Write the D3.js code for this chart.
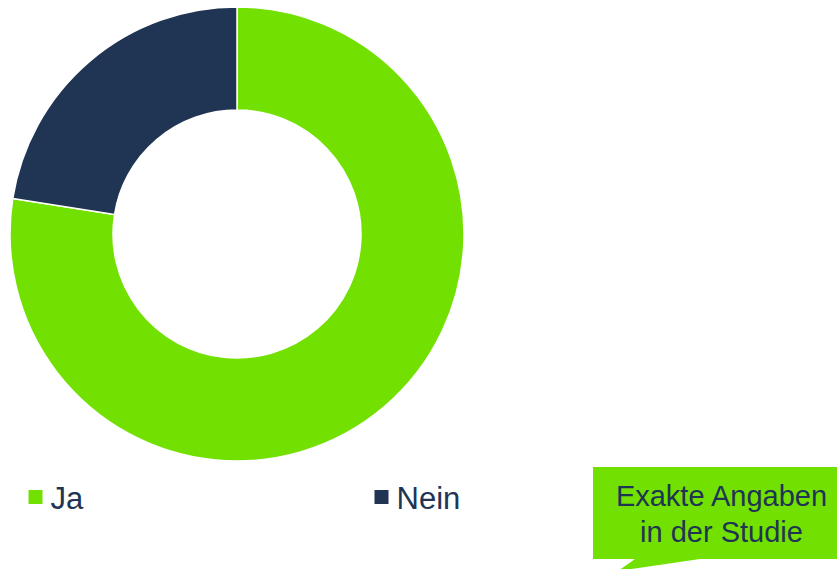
<!DOCTYPE html>
<html>
<head>
<meta charset="utf-8">
<script src="https://cdn.jsdelivr.net/npm/d3@7"></script>
<style>
  html, body { margin: 0; padding: 0; background: #ffffff; }
  svg { display: block; }
</style>
</head>
<body>
<svg id="chart" width="837" height="569"></svg>
<script>
const categories = ["Ja", "Nein"];
const values = [77.5, 22.5];
const colors = ["#72E102", "#203553"];
const calloutLines = ["Exakte Angaben", "in der Studie"];

const svg = d3.select("#chart");
const cx = 237, cy = 234, outerR = 227, innerR = 124;

const pie = d3.pie().sort(null).value(d => d.value);
const arc = d3.arc().innerRadius(innerR).outerRadius(outerR);
const data = categories.map((c, i) => ({ name: c, value: values[i], color: colors[i] }));

const g = svg.append("g").attr("transform", `translate(${cx},${cy})`);
g.selectAll("path")
  .data(pie(data))
  .join("path")
  .attr("d", arc)
  .attr("fill", d => d.data.color)
  .attr("stroke", "#ffffff")
  .attr("stroke-width", 1.5)
  .attr("stroke-linejoin", "round");

// Legend
const legendX = d3.scalePoint().domain(categories).range([28.5, 374.5]);
const lg = svg.append("g").selectAll("g").data(data).join("g")
  .attr("transform", d => `translate(${legendX(d.name)},0)`);
lg.append("rect").attr("x", 0).attr("y", 490).attr("width", 14).attr("height", 14)
  .attr("fill", d => d.color);
lg.append("text").attr("x", 22).attr("y", 509)
  .attr("font-family", "Liberation Sans, Arial, sans-serif")
  .attr("font-size", 31)
  .attr("fill", "#203553")
  .text(d => d.name);

// Callout
const cg = svg.append("g");
cg.append("path")
  .attr("d", "M593,467 L837,467 L837,559 L700,559 L618,571 L635,559 L593,559 Z")
  .attr("fill", "#72E102");
cg.selectAll("text").data(calloutLines).join("text")
  .attr("x", 721.5)
  .attr("y", (d, i) => 506 + i * 35.5)
  .attr("text-anchor", "middle")
  .attr("font-family", "Liberation Sans, Arial, sans-serif")
  .attr("font-size", 29)
  .attr("fill", "#203553")
  .text(d => d);
</script>
</body>
</html>
